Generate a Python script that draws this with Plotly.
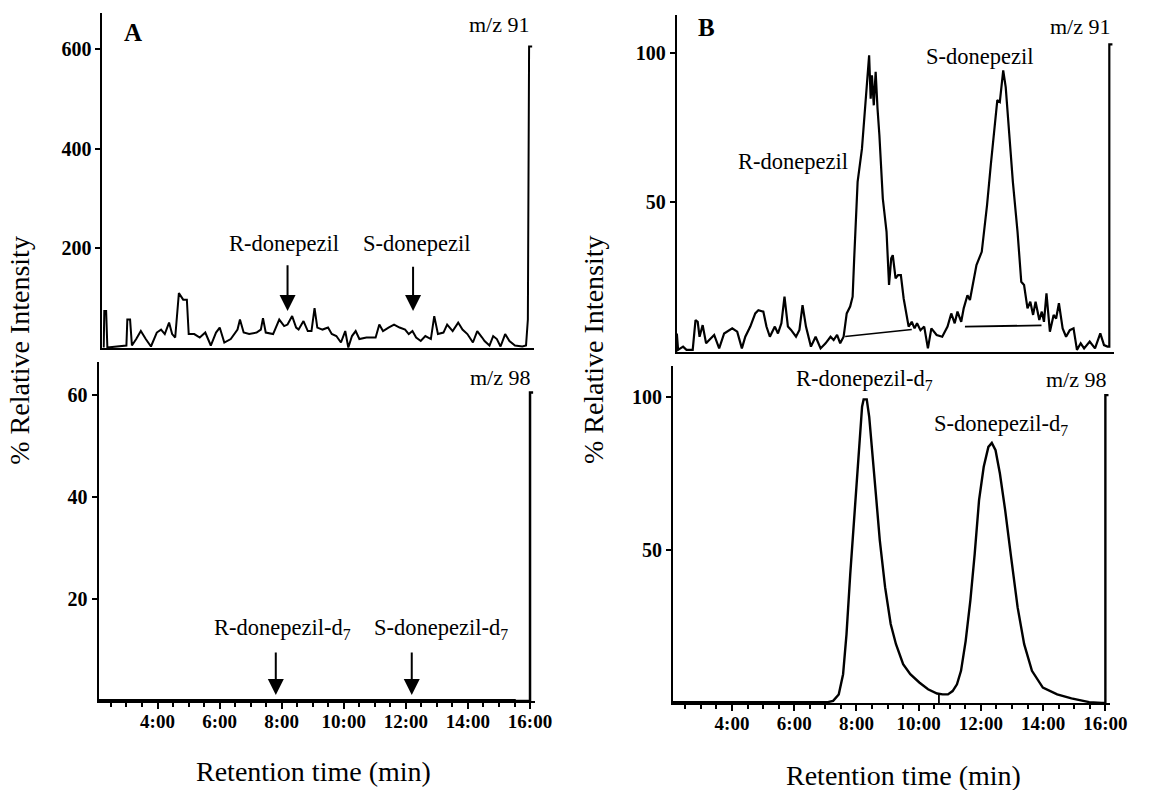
import plotly.graph_objects as go

# ---------------- data (retention time in min, % relative intensity) ----------------
a91_t = [2.14, 2.16, 2.22, 2.26, 2.88, 2.91, 3.00, 3.06, 3.20, 3.35, 3.51, 3.68, 3.87, 4.01, 4.13,
         4.27, 4.37, 4.47, 4.59, 4.73, 4.85, 4.91, 5.09, 5.27, 5.45, 5.63, 5.80, 5.92, 6.07, 6.28,
         6.50, 6.58, 6.70, 6.88, 7.12, 7.26, 7.33, 7.42, 7.66, 7.78, 7.86, 8.02, 8.13, 8.28, 8.41,
         8.49, 8.65, 8.79, 8.91, 9.01, 9.10, 9.27, 9.45, 9.57, 9.72, 9.87, 10.01, 10.11, 10.23, 10.35,
         10.47, 10.70, 11.00, 11.12, 11.24, 11.42, 11.60, 11.78, 11.96, 12.08, 12.20, 12.32, 12.47, 12.62, 12.80,
         12.91, 13.03, 13.21, 13.33, 13.51, 13.69, 13.83, 13.99, 14.17, 14.31, 14.47, 14.55, 14.71, 14.83, 14.95,
         15.07, 15.22, 15.36, 15.54, 15.78, 15.90, 15.96, 16.00, 16.10]
a91_v = [1, 74, 74, 1, 5, 57, 57, 5, 18, 34, 18, 3, 31, 37, 28,
         51, 28, 21, 110, 97, 97, 28, 28, 21, 31, 5, 31, 41, 11, 18,
         37, 57, 31, 28, 31, 37, 60, 31, 28, 47, 57, 44, 47, 64, 41,
         37, 54, 34, 34, 80, 41, 37, 41, 28, 24, 11, 34, 1, 24, 34,
         18, 21, 21, 47, 34, 41, 47, 41, 37, 28, 34, 21, 14, 24, 18,
         64, 28, 31, 47, 34, 51, 37, 28, 11, 34, 21, 14, 5, 24, 18,
         3, 28, 14, 5, 3, 5, 57, 605, 605]

a98_t = [2.10, 15.50, 15.50, 16.00, 16.00, 16.10]
a98_v = [0.15, 0.15, 0.0, 0.0, 60.5, 60.5]

b91_t = [2.10, 2.14, 2.30, 2.41, 2.61, 2.70, 2.77, 2.83, 2.93, 3.04, 3.14, 3.30, 3.46, 3.62, 3.88,
         4.04, 4.19, 4.30, 4.46, 4.62, 4.72, 4.88, 4.98, 5.09, 5.25, 5.35, 5.46, 5.56, 5.67, 5.77,
         5.93, 6.04, 6.14, 6.25, 6.41, 6.56, 6.72, 6.88, 7.04, 7.14, 7.25, 7.35, 7.46, 7.56, 7.67,
         7.75, 7.80, 7.91, 8.05, 8.14, 8.24, 8.28, 8.33, 8.37, 8.43, 8.49, 8.55, 8.61, 8.72, 8.84,
         8.92, 8.99, 9.04, 9.13, 9.21, 9.30, 9.39, 9.47, 9.55, 9.65, 9.74, 9.82, 9.93, 10.05, 10.17,
         10.28, 10.45, 10.63, 10.80, 10.92, 11.03, 11.12, 11.24, 11.32, 11.44, 11.52, 11.61, 11.73, 11.90, 12.07,
         12.19, 12.30, 12.40, 12.48, 12.53, 12.59, 12.67, 12.77, 12.90, 13.05, 13.17, 13.26, 13.37, 13.46, 13.55,
         13.63, 13.75, 13.83, 13.90, 13.98, 14.09, 14.21, 14.29, 14.38, 14.50, 14.61, 14.73, 14.85, 14.96, 15.08,
         15.19, 15.37, 15.54, 15.71, 15.83, 15.94, 16.00, 16.00, 16.10]
b91_v = [6.2, 0.7, 1.8, 0.7, 0.7, 10.7, 10.1, 5.1, 9.0, 2.9, 4.0, 5.7, 1.2, 6.2, 7.9,
         6.8, 1.2, 5.1, 8.5, 12.9, 14.0, 13.5, 8.5, 5.1, 8.5, 6.2, 9.6, 18.5, 8.5, 7.4,
         5.1, 7.4, 15.7, 8.5, 1.8, 5.1, 1.2, 2.9, 5.1, 4.0, 5.7, 2.9, 5.1, 12.9, 15.2,
         18.5, 31.3, 56.9, 68.0, 80.3, 95.9, 99.2, 84.7, 92.5, 82.5, 93.7, 81.4, 72.5, 51.3, 40.2,
         22.4, 31.3, 32.4, 24.6, 25.7, 25.7, 17.9, 13.5, 8.5, 10.1, 7.9, 9.6, 7.3, 8.5, 1.2,
         7.9, 5.7, 5.1, 8.5, 12.9, 9.6, 13.5, 10.1, 14.6, 19.0, 17.4, 22.4, 29.1, 33.5, 49.1,
         62.5, 74.7, 84.2, 83.6, 89.2, 94.2, 88.6, 73.6, 56.9, 40.2, 23.5, 22.4, 14.6, 16.8, 12.4,
         16.8, 10.7, 13.5, 10.1, 19.6, 6.8, 12.4, 11.2, 16.3, 7.9, 5.1, 7.3, 7.9, 0.7, 2.9,
         1.2, 3.5, 1.2, 6.2, 2.3, 1.8, 1.8, 102.9, 102.9]

b91_baseR_t = [7.51, 9.65]
b91_baseR_v = [5.2, 7.5]
b91_baseS_t = [11.36, 13.82]
b91_baseS_v = [8.5, 8.9]

b98_t = [2.10, 7.08, 7.25, 7.43, 7.57, 7.68, 7.80, 7.91, 8.00, 8.10, 8.18, 8.23, 8.33, 8.41, 8.52,
         8.64, 8.75, 8.92, 9.10, 9.27, 9.50, 9.73, 10.02, 10.30, 10.59, 10.77, 10.94, 11.09, 11.23, 11.36,
         11.51, 11.66, 11.80, 11.94, 12.09, 12.24, 12.35, 12.47, 12.61, 12.78, 12.97, 13.18, 13.39, 13.64, 13.99,
         14.45, 14.91, 15.48, 15.89, 16.00, 16.00, 16.10]
b98_v = [0.3, 0.3, 0.7, 2.8, 9.4, 22.5, 42.1, 57.4, 72.7, 85.8, 96.7, 99.1, 99.1, 93.4, 81.4,
         66.2, 53.1, 37.8, 25.8, 19.2, 12.7, 9.4, 6.7, 4.5, 3.1, 2.8, 2.8, 3.9, 6.1, 10.5,
         20.3, 33.4, 48.7, 66.2, 77.1, 83.6, 84.9, 82.5, 74.9, 62.9, 47.6, 31.2, 19.2, 10.5, 5.0,
         2.8, 1.5, 0.3, 0.0, 0.0, 100.5, 100.5]
b98_valley_t = [10.65, 10.65]
b98_valley_v = [0.0, 3.0]

x_tickvals = [4, 6, 8, 10, 12, 14, 16]
x_ticktext = ["4:00", "6:00", "8:00", "10:00", "12:00", "14:00", "16:00"]
a91_yticks = [200, 400, 600]
a98_yticks = [20, 40, 60]
b_yticks = [50, 100]

# ---------------- layout helpers ----------------
W, H = 1150, 790
SERIF = "Liberation Serif"
TICKF = dict(family=SERIF, size=20, color="black", weight="bold")
XTICKF = dict(family=SERIF, size=19, color="black", weight="bold")
X_RANGE = [2.1, 16.15]


def px_dom(a, b):
    return [a / W, b / W]


def py_dom(top, bottom):
    return [1 - bottom / H, 1 - top / H]


def xaxis(dom, bottom_panel):
    d = dict(domain=dom, range=X_RANGE, showgrid=False, zeroline=False,
             showline=True, linewidth=2, linecolor="black")
    if bottom_panel:
        d.update(tickmode="array", tickvals=x_tickvals, ticktext=x_ticktext,
                 ticks="outside", ticklen=6, tickwidth=2, tickcolor="black",
                 tickfont=XTICKF, ticklabelstandoff=-4,
                 minor=dict(tickmode="linear", tick0=2.5, dtick=0.5, ticks="outside",
                            ticklen=4, tickwidth=1.5, tickcolor="black", showgrid=False))
    else:
        d.update(ticks="", showticklabels=False)
    return d


def yaxis(dom, rng, vals):
    return dict(domain=dom, range=rng, showgrid=False, zeroline=False,
                showline=True, linewidth=2, linecolor="black",
                tickmode="array", tickvals=vals, ticks="outside", ticklen=5,
                tickwidth=1.5, tickcolor="black", tickfont=TICKF)


fig = go.Figure()
LINE = dict(color="black", width=2)

fig.add_trace(go.Scatter(x=a91_t, y=a91_v, mode="lines", line=LINE, xaxis="x", yaxis="y"))
fig.add_trace(go.Scatter(x=a98_t, y=a98_v, mode="lines", line=dict(color="black", width=2.5),
                         xaxis="x2", yaxis="y2"))
fig.add_trace(go.Scatter(x=b91_t, y=b91_v, mode="lines", line=dict(color="black", width=2.2),
                         xaxis="x3", yaxis="y3"))
fig.add_trace(go.Scatter(x=b91_baseR_t, y=b91_baseR_v, mode="lines", line=dict(color="black", width=1.5),
                         xaxis="x3", yaxis="y3"))
fig.add_trace(go.Scatter(x=b91_baseS_t, y=b91_baseS_v, mode="lines", line=dict(color="black", width=1.8),
                         xaxis="x3", yaxis="y3"))
fig.add_trace(go.Scatter(x=b98_t, y=b98_v, mode="lines", line=dict(color="black", width=2.4),
                         xaxis="x4", yaxis="y4"))
fig.add_trace(go.Scatter(x=b98_valley_t, y=b98_valley_v, mode="lines", line=dict(color="black", width=1.8),
                         xaxis="x4", yaxis="y4"))

fig.update_layout(
    width=W, height=H, margin=dict(l=0, r=0, t=0, b=0),
    paper_bgcolor="white", plot_bgcolor="white", showlegend=False,
    xaxis=dict(xaxis(px_dom(104, 541.7), False), anchor="y"),
    yaxis=dict(yaxis(py_dom(13, 348), [0, 672], a91_yticks), anchor="x"),
    xaxis2=dict(xaxis(px_dom(100, 542.7), True), anchor="y2"),
    yaxis2=dict(yaxis(py_dom(362, 701), [0, 66.5], a98_yticks), anchor="x2"),
    xaxis3=dict(xaxis(px_dom(687, 1130.7), False), anchor="y3"),
    yaxis3=dict(yaxis(py_dom(15, 352), [0, 112.7], b_yticks), anchor="x3"),
    xaxis4=dict(xaxis(px_dom(683, 1126.7), True), anchor="y4"),
    yaxis4=dict(yaxis(py_dom(366, 703), [0, 110], b_yticks), anchor="x4"),
)

TXT = dict(family=SERIF, size=22.5, color="black")
ann = []


def label(text, x, y, xr, yr, xanchor="center", font=TXT):
    ann.append(dict(text=text, x=x, y=y, xref=xr, yref=yr, showarrow=False,
                    xanchor=xanchor, yanchor="middle", font=font))


def arrow(x, y_head, y_tail, xr, yr):
    ann.append(dict(text="", x=x, y=y_head, ax=x, ay=y_tail, xref=xr, yref=yr,
                    axref=xr, ayref=yr, showarrow=True, arrowhead=2, arrowsize=1.6,
                    arrowwidth=2, arrowcolor="black"))


BOLDL = dict(family=SERIF, size=25, color="black", weight="bold")
MZ = dict(family=SERIF, size=22, color="black")

# Panel A, m/z 91
label("A", 3.1, 632, "x", "y", font=BOLDL)
label("m/z 91", 16.1, 648, "x", "y", xanchor="right", font=MZ)
label("R-donepezil", 8.02, 209, "x", "y")
label("S-donepezil", 12.32, 209, "x", "y")
arrow(8.13, 74, 169, "x", "y")
arrow(12.22, 74, 166, "x", "y")

# Panel A, m/z 98
label("m/z 98", 16.1, 63.5, "x2", "y2", xanchor="right", font=MZ)
label("R-donepezil-d<sub>7</sub>", 8.03, 14.2, "x2", "y2")
label("S-donepezil-d<sub>7</sub>", 13.14, 14.2, "x2", "y2")
arrow(7.81, 1.2, 9.8, "x2", "y2")
arrow(12.19, 1.2, 9.8, "x2", "y2")

# Panel B, m/z 91
label("B", 3.05, 108.4, "x3", "y3", font=BOLDL)
label("m/z 91", 16.13, 108.7, "x3", "y3", xanchor="right", font=MZ)
label("R-donepezil", 5.83, 63.6, "x3", "y3")
label("S-donepezil", 11.83, 98.7, "x3", "y3")

# Panel B, m/z 98
label("m/z 98", 16.12, 105.5, "x4", "y4", xanchor="right", font=MZ)
label("R-donepezil-d<sub>7</sub>", 8.26, 105.5, "x4", "y4")
label("S-donepezil-d<sub>7</sub>", 12.66, 90.7, "x4", "y4")

# axis titles
TITLE = dict(family=SERIF, size=28, color="black")
for xp in (20, 603):
    ann.append(dict(text="% Relative Intensity", x=xp / W, y=1 - 350 / H, xref="paper", yref="paper",
                    showarrow=False, textangle=-90, font=TITLE, xanchor="center", yanchor="middle"))
for xp, yp in ((318, 771), (917, 775)):
    ann.append(dict(text="Retention time (min)", x=xp / W, y=1 - yp / H, xref="paper", yref="paper",
                    showarrow=False, font=TITLE, xanchor="center", yanchor="middle"))

fig.update_layout(annotations=ann)
fig.write_html("out.html", config={"displayModeBar": False},
               post_script="document.body.style.margin='0px';document.body.style.overflow='hidden';")
